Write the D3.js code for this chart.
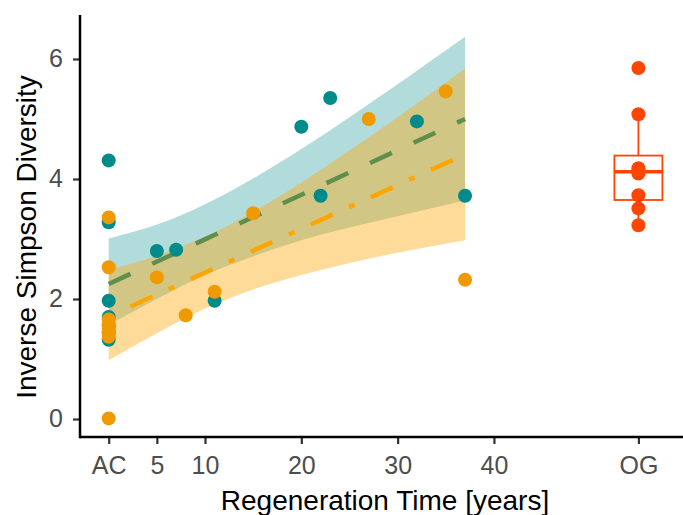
<!DOCTYPE html>
<html>
<head>
<meta charset="utf-8">
<script src="https://cdn.jsdelivr.net/npm/d3@7/dist/d3.min.js"></script>
<style>
  html, body { margin: 0; padding: 0; background: #fff; }
  svg { display: block; font-family: "Liberation Sans", Arial, sans-serif; }
</style>
</head>
<body>
<div id="chart"></div>
<script>
// ---- data ----
// teal group (years, inverse Simpson)
const tealX = [0, 0, 0, 0, 0, 0, 0, 5, 7, 11, 20, 22, 23, 32, 37];
const tealY = [4.31, 3.28, 1.97, 1.70, 1.55, 1.45, 1.32, 2.80, 2.82, 1.97, 4.87, 3.72, 5.35, 4.96, 3.72];
// orange group
const orangeX = [0, 0, 0, 0, 0, 0, 0, 0, 5, 8, 11, 15, 27, 35, 37];
const orangeY = [3.36, 2.53, 1.66, 1.58, 1.50, 1.43, 1.37, 0.01, 2.36, 1.73, 2.12, 3.43, 5.00, 5.46, 2.32];
// old growth (OG) plots
const ogY = [5.85, 5.08, 4.18, 4.13, 4.09, 3.73, 3.51, 3.23];
const ogBox = { lo: 3.23, q1: 3.65, med: 4.12, q3: 4.39, hi: 5.08 };
const ogPos = 55;

// fitted lines
const fitYears = [0, 37];
const tealFit = [2.25, 5.00];
const orangeFit = [1.71, 4.41];

// confidence ribbons
const ribbonYears = [0, 5, 10, 15, 20, 25, 30, 37];
const tealLo = [1.57, 2.00, 2.40, 2.71, 2.98, 3.19, 3.38, 3.64];
const tealHi = [3.01, 3.24, 3.58, 4.01, 4.50, 5.03, 5.58, 6.37];
const orangeLo = [0.98, 1.43, 1.84, 2.16, 2.40, 2.60, 2.77, 2.98];
const orangeHi = [2.49, 2.72, 3.04, 3.45, 3.94, 4.48, 5.03, 5.84];

// axis ticks
const xTickVals = [0, 5, 10, 20, 30, 40, 55];
const xTickLabels = ["AC", "5", "10", "20", "30", "40", "OG"];
const yTickVals = [0, 2, 4, 6];
const yTickLabels = ["0", "2", "4", "6"];

// ---- drawing ----
const W = 683, H = 515;
const svg = d3.select("#chart").append("svg").attr("width", W).attr("height", H);

const x = d3.scaleLinear().domain([-2.98, 59.63]).range([80, 683]);
const y = d3.scaleLinear().domain([-0.3, 6.733]).range([437, 15]);

const TEAL = "#008B8B", ORANGE = "#EE9A00", OG = "#FF4500";

const ribbon = (lo, hi) => d3.area()
  .x((d, i) => x(ribbonYears[i]))
  .y0((d, i) => y(lo[i]))
  .y1((d, i) => y(hi[i]))
  .curve(d3.curveMonotoneX)(ribbonYears);

svg.append("path").attr("d", ribbon(tealLo, tealHi))
  .attr("fill", TEAL).attr("fill-opacity", 0.3);
svg.append("path").attr("d", ribbon(orangeLo, orangeHi))
  .attr("fill", "#FFA500").attr("fill-opacity", 0.4);

const fitLine = vals => d3.line()
  .x((d, i) => x(fitYears[i]))
  .y((d, i) => y(vals[i]))(fitYears);

svg.append("path").attr("d", fitLine(tealFit))
  .attr("fill", "none").attr("stroke", "#5f8f4c").attr("stroke-width", 4.5)
  .attr("stroke-dasharray", "24,24");
svg.append("path").attr("d", fitLine(orangeFit))
  .attr("fill", "none").attr("stroke", "#FFA500").attr("stroke-width", 4.5)
  .attr("stroke-dasharray", "6,18,24,18");

const R = 7;
svg.append("g").selectAll("circle").data(tealX).join("circle")
  .attr("cx", d => x(d)).attr("cy", (d, i) => y(tealY[i])).attr("r", R).attr("fill", TEAL);
svg.append("g").selectAll("circle").data(orangeX).join("circle")
  .attr("cx", d => x(d)).attr("cy", (d, i) => y(orangeY[i])).attr("r", R).attr("fill", ORANGE);

// OG boxplot
const bx = x(ogPos), bw = 48;
const gb = svg.append("g").attr("stroke", OG).attr("fill", "none");
gb.append("line").attr("x1", bx).attr("x2", bx).attr("y1", y(ogBox.q3)).attr("y2", y(ogBox.hi)).attr("stroke-width", 1.8);
gb.append("line").attr("x1", bx).attr("x2", bx).attr("y1", y(ogBox.q1)).attr("y2", y(ogBox.lo)).attr("stroke-width", 1.8);
gb.append("rect").attr("x", bx - bw / 2).attr("width", bw)
  .attr("y", y(ogBox.q3)).attr("height", y(ogBox.q1) - y(ogBox.q3))
  .attr("fill", "#fff").attr("stroke-width", 1.8);
gb.append("line").attr("x1", bx - bw / 2).attr("x2", bx + bw / 2)
  .attr("y1", y(ogBox.med)).attr("y2", y(ogBox.med)).attr("stroke-width", 3.5);
svg.append("g").selectAll("circle").data(ogY).join("circle")
  .attr("cx", bx).attr("cy", d => y(d)).attr("r", R).attr("fill", OG);

// axes
const xAxis = svg.append("g").attr("transform", "translate(0,437)")
  .call(d3.axisBottom(x).tickValues(xTickVals).tickFormat((d, i) => xTickLabels[i]).tickSize(7).tickPadding(12));
const yAxis = svg.append("g").attr("transform", "translate(80,0)")
  .call(d3.axisLeft(y).tickValues(yTickVals).tickFormat((d, i) => yTickLabels[i]).tickSize(7).tickPadding(10));
[xAxis, yAxis].forEach(g => {
  g.select(".domain").remove();
  g.selectAll(".tick line").attr("stroke", "#333333").attr("stroke-width", 2.2);
  g.selectAll(".tick text").attr("fill", "#4d4d4d").style("font-size", "25px")
    .style("font-family", "'Liberation Sans', Arial, sans-serif");
});
svg.append("line").attr("x1", 80).attr("x2", 683).attr("y1", 437).attr("y2", 437)
  .attr("stroke", "#000").attr("stroke-width", 2.5);
svg.append("line").attr("x1", 80).attr("x2", 80).attr("y1", 15).attr("y2", 438.2)
  .attr("stroke", "#000").attr("stroke-width", 2.5);

// titles
svg.append("text").attr("x", 385).attr("y", 510).attr("text-anchor", "middle")
  .style("font-size", "28px").attr("fill", "#000").text("Regeneration Time [years]");
svg.append("text").attr("transform", "translate(36,237) rotate(-90)").attr("text-anchor", "middle")
  .style("font-size", "28px").attr("fill", "#000").text("Inverse Simpson Diversity");
</script>
</body>
</html>
